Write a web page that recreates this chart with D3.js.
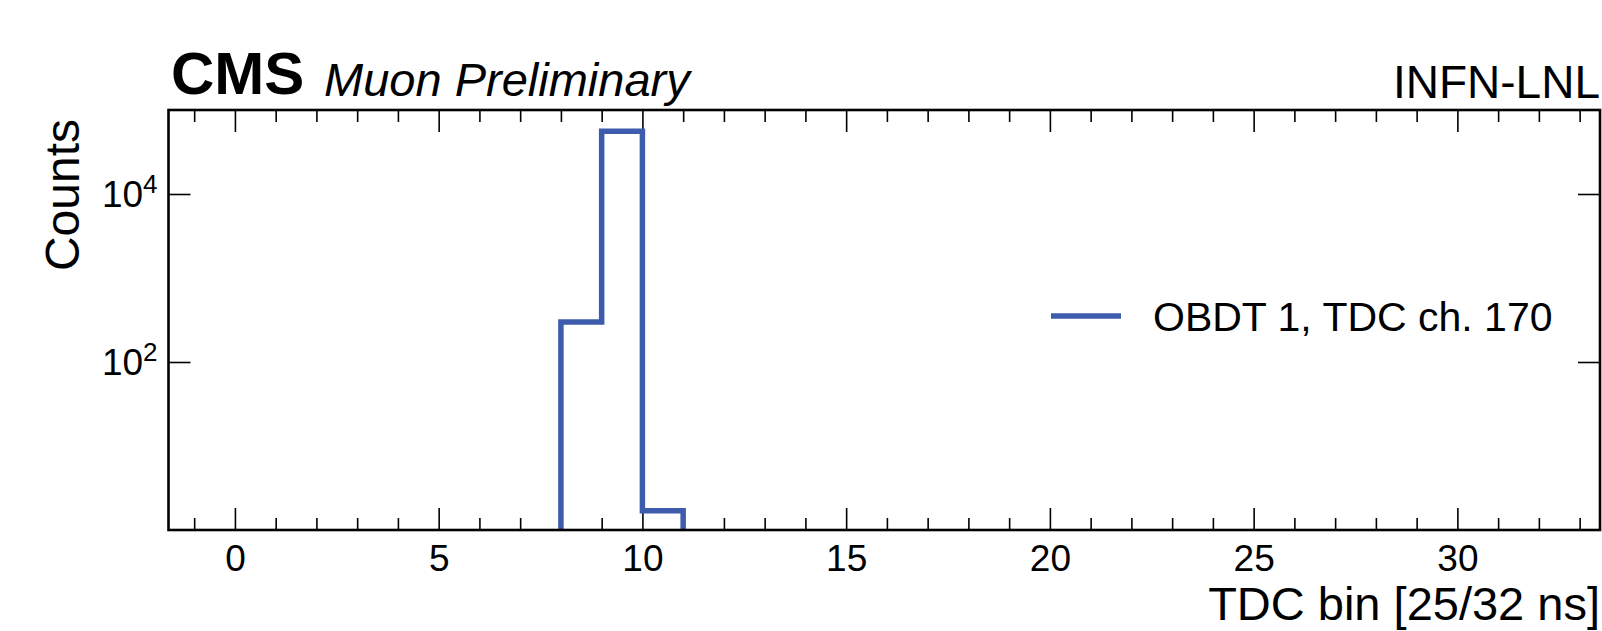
<!DOCTYPE html>
<html>
<head>
<meta charset="utf-8">
<script src="https://cdn.jsdelivr.net/npm/d3@7"></script>
<style>
  body { margin: 0; background: #fff; }
  text { font-family: "Liberation Sans", Arial, sans-serif; fill: #000; }
  .domain { display: none; }
  .tick line { stroke: #000; stroke-width: 1.6; }
</style>
</head>
<body>
<svg id="chart" width="1602" height="631"></svg>
<script>
// histogram contents (only non-empty bins)
const binLow = [8, 9, 10];
const binWidth = 1;
const counts = [300, 56000, 1.7];

const xMajor = [0, 5, 10, 15, 20, 25, 30];
const xMinor = [-1, 1, 2, 3, 4, 6, 7, 8, 9, 11, 12, 13, 14, 16, 17, 18, 19, 21, 22, 23, 24, 26, 27, 28, 29, 31, 32, 33];
const yMajor = [1e2, 1e4];

const seriesLabel = "OBDT 1, TDC ch. 170";
const lineColor = "#3d5cab";

const svg = d3.select("#chart");
const box = { left: 168.5, right: 1600, top: 110, bottom: 530 };

const x = d3.scaleLinear().domain([-1.63, 33.5]).range([box.left, box.right]);
const y = d3.scaleLog().domain([1, 1e5]).range([box.bottom, box.top]);

// axes: inward ticks on all four sides
const gx = svg.append("g").attr("transform", `translate(0,${box.bottom})`);
gx.call(d3.axisBottom(x).tickValues(xMinor).tickSize(-12).tickFormat(""));
const gxM = svg.append("g").attr("transform", `translate(0,${box.bottom})`);
gxM.call(d3.axisBottom(x).tickValues(xMajor).tickSize(-22).tickPadding(14).tickFormat(d3.format("d")));
gxM.selectAll("text").attr("font-size", 37).attr("dy", "0.72em");

svg.append("g").attr("transform", `translate(0,${box.top})`)
  .call(d3.axisTop(x).tickValues(xMinor).tickSize(-12).tickFormat(""));
svg.append("g").attr("transform", `translate(0,${box.top})`)
  .call(d3.axisTop(x).tickValues(xMajor).tickSize(-22).tickFormat(""));

const gy = svg.append("g").attr("transform", `translate(${box.left},0)`);
gy.call(d3.axisLeft(y).tickValues(yMajor).tickSize(-22).tickFormat(""));
svg.append("g").attr("transform", `translate(${box.right},0)`)
  .call(d3.axisRight(y).tickValues(yMajor).tickSize(-22).tickFormat(""));

// y tick labels as 10^n
yMajor.forEach(v => {
  const t = svg.append("text")
    .attr("x", box.left - 11)
    .attr("y", y(v) + 13)
    .attr("text-anchor", "end")
    .attr("font-size", 37);
  t.append("tspan").text("10");
  t.append("tspan").attr("dy", -14).attr("font-size", 26).text(Math.round(Math.log10(v)));
});

// histogram step outline
const pts = [[binLow[0], 1]];
binLow.forEach((lo, i) => {
  pts.push([lo, counts[i]]);
  pts.push([lo + binWidth, counts[i]]);
});
pts.push([binLow[binLow.length - 1] + binWidth, 1]);

svg.append("path")
  .datum(pts)
  .attr("fill", "none")
  .attr("stroke", lineColor)
  .attr("stroke-width", 5.5)
  .attr("stroke-linejoin", "miter")
  .attr("d", d3.line().x(d => x(d[0])).y(d => y(d[1])));

// frame
svg.append("rect")
  .attr("x", box.left).attr("y", box.top)
  .attr("width", box.right - box.left).attr("height", box.bottom - box.top)
  .attr("fill", "none").attr("stroke", "#000").attr("stroke-width", 2.6);

// legend
svg.append("line")
  .attr("x1", 1051).attr("x2", 1121).attr("y1", 316).attr("y2", 316)
  .attr("stroke", lineColor).attr("stroke-width", 5.5);
svg.append("text")
  .attr("x", 1153).attr("y", 331)
  .attr("font-size", 41)
  .text(seriesLabel);

// labels
svg.append("text")
  .attr("x", box.right).attr("y", 620)
  .attr("text-anchor", "end")
  .attr("font-size", 47)
  .text("TDC bin [25/32 ns]");

svg.append("text")
  .attr("transform", `translate(79,119) rotate(-90)`)
  .attr("text-anchor", "end")
  .attr("font-size", 48)
  .text("Counts");

svg.append("text")
  .attr("x", 171).attr("y", 94)
  .attr("font-size", 60).attr("font-weight", "bold")
  .text("CMS");
svg.append("text")
  .attr("x", 324).attr("y", 96)
  .attr("font-size", 47).attr("font-style", "italic")
  .text("Muon Preliminary");
svg.append("text")
  .attr("x", box.right).attr("y", 98)
  .attr("text-anchor", "end")
  .attr("font-size", 46)
  .text("INFN-LNL");
</script>
</body>
</html>
